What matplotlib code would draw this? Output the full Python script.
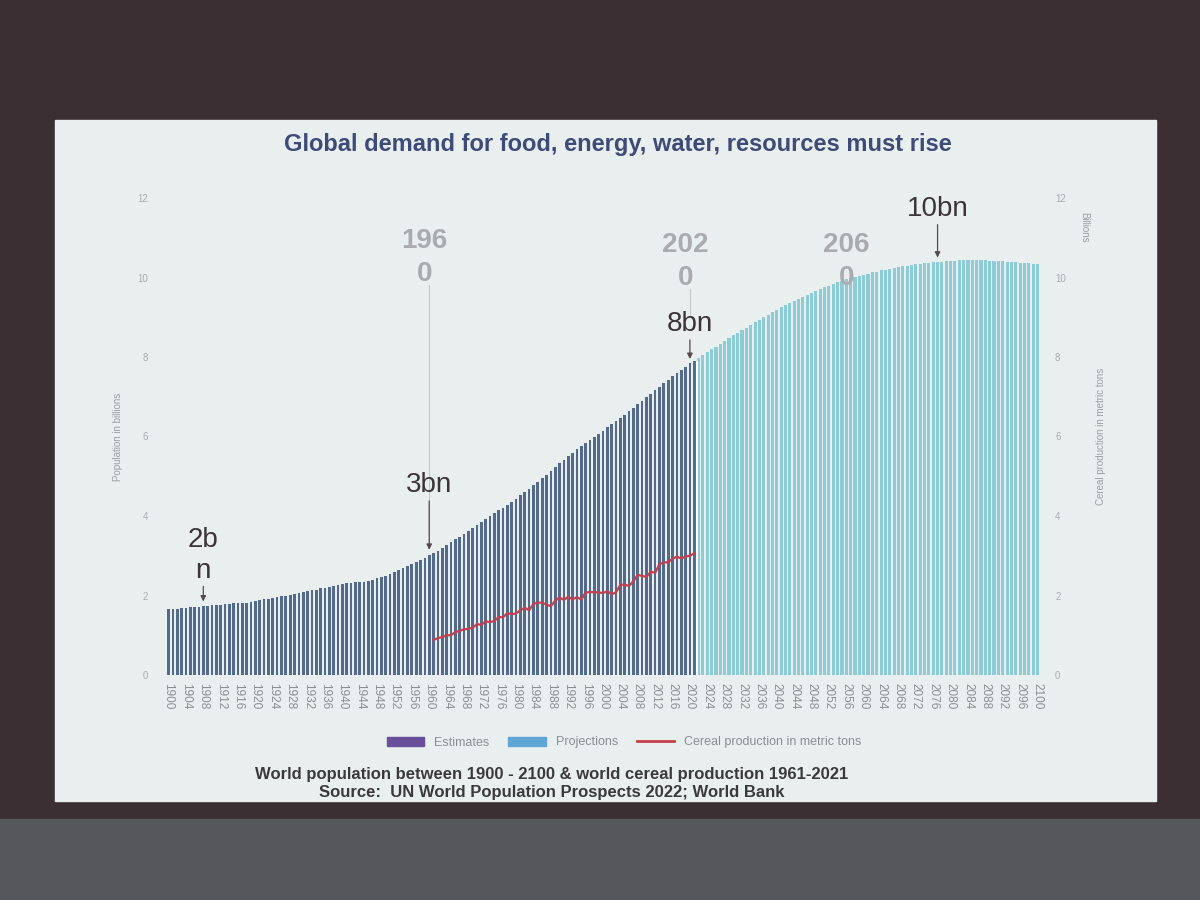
import matplotlib.pyplot as plt
from matplotlib.patches import Rectangle, Patch
from matplotlib.lines import Line2D

plt.rcParams['font.family'] = ['Liberation Sans', 'DejaVu Sans']

# world population, billions (1900-2021 estimates, 2022-2100 projections)
est_years = list(range(1900, 2022))
est_pop = [
    1.65, 1.66, 1.67, 1.68, 1.69, 1.70, 1.71, 1.72, 1.73, 1.74,
    1.75, 1.76, 1.77, 1.78, 1.79, 1.80, 1.80, 1.81, 1.81, 1.83,
    1.86, 1.88, 1.90, 1.92, 1.94, 1.96, 1.98, 2.00, 2.02, 2.05,
    2.07, 2.09, 2.11, 2.13, 2.15, 2.18, 2.20, 2.22, 2.25, 2.27,
    2.30, 2.31, 2.32, 2.33, 2.34, 2.35, 2.37, 2.40, 2.43, 2.46,
    2.50, 2.54, 2.59, 2.64, 2.69, 2.74, 2.79, 2.85, 2.90, 2.94,
    3.02, 3.07, 3.13, 3.20, 3.27, 3.34, 3.41, 3.48, 3.55, 3.62,
    3.70, 3.78, 3.85, 3.93, 4.00, 4.07, 4.14, 4.21, 4.28, 4.36,
    4.44, 4.52, 4.61, 4.69, 4.77, 4.86, 4.95, 5.04, 5.14, 5.23,
    5.33, 5.42, 5.51, 5.59, 5.68, 5.76, 5.84, 5.92, 6.00, 6.07,
    6.15, 6.23, 6.31, 6.39, 6.47, 6.55, 6.63, 6.72, 6.81, 6.90,
    6.99, 7.07, 7.16, 7.25, 7.34, 7.43, 7.51, 7.60, 7.68, 7.76,
    7.84, 7.91,
]
proj_years = list(range(2022, 2101))
proj_pop = [
    7.98, 8.05, 8.12, 8.19, 8.26, 8.33, 8.39, 8.47,
    8.55, 8.61, 8.68, 8.74, 8.81, 8.87, 8.94, 9.00, 9.06, 9.13,
    9.19, 9.25, 9.30, 9.36, 9.41, 9.46, 9.52, 9.57, 9.62, 9.66,
    9.71, 9.75, 9.79, 9.84, 9.88, 9.91, 9.95, 9.99, 10.02, 10.04,
    10.07, 10.10, 10.13, 10.15, 10.18, 10.20, 10.22, 10.24, 10.26, 10.28,
    10.30, 10.31, 10.33, 10.34, 10.36, 10.37, 10.38, 10.39, 10.40, 10.41,
    10.42, 10.42, 10.43, 10.43, 10.43, 10.43, 10.43, 10.43, 10.43, 10.42,
    10.42, 10.41, 10.41, 10.40, 10.39, 10.38, 10.37, 10.36, 10.36, 10.35,
    10.35,
]

# world cereal production, billion metric tons
cereal_years = list(range(1961, 2022))
cereal = [
    0.88, 0.93, 0.95, 1.00, 1.00, 1.08, 1.11, 1.15, 1.16,
    1.19, 1.28, 1.26, 1.35, 1.33, 1.36, 1.46, 1.45, 1.56, 1.53,
    1.55, 1.63, 1.69, 1.63, 1.79, 1.82, 1.82, 1.77, 1.73, 1.87,
    1.95, 1.89, 1.97, 1.90, 1.96, 1.90, 2.07, 2.09, 2.08, 2.08,
    2.06, 2.11, 2.03, 2.08, 2.27, 2.27, 2.24, 2.36, 2.52, 2.49,
    2.47, 2.60, 2.57, 2.79, 2.83, 2.84, 2.92, 2.98, 2.93, 2.98,
    3.00, 3.06,
]

# (text, year, text y, arrow tip y)
dark_notes = [("2b\nn", 1908, 2.3, 1.85), ("3bn", 1960, 4.45, 3.15),
              ("8bn", 2020, 8.5, 7.95), ("10bn", 2077, 11.4, 10.5)]
grey_notes = [("196\n0", 1960, 9.75, 3.2), ("202\n0", 2020, 9.65, 9.0),
              ("206\n0", 2057, 9.65, 10.05)]

fig = plt.figure(figsize=(12, 9), dpi=100)
fig.patch.set_facecolor('#3b2f33')
fig.add_artist(Rectangle((0, 0), 1, 0.09, transform=fig.transFigure,
                         color='#55575a', zorder=0))
fig.add_artist(Rectangle((0.046, 0.11), 0.917, 0.757, transform=fig.transFigure,
                         color='#e9efee', zorder=0))

ax = fig.add_axes([0.135, 0.25, 0.735, 0.53])
ax.set_facecolor('none')
ax.bar(est_years, est_pop, width=0.62, color='#536a8c', zorder=2)
ax.bar(proj_years, proj_pop, width=0.72, color='#8dcbd6', zorder=2)
ax.vlines(2021.6, 0, est_pop[-1], color='white', lw=1.5, zorder=3)
ax.plot(cereal_years, cereal, color='#c73e4c', lw=1.6, zorder=4)

ax.set_xlim(1898.5, 2101.5)
ax.set_ylim(0, 12)
ax.set_yticks(range(0, 13, 2))
ax.set_xticks(range(1900, 2101, 4))
ax.tick_params(axis='x', labelrotation=270, labelsize=8.5, colors='#8a8f93', length=0, pad=6)
for lbl in ax.get_xticklabels():
    lbl.set_fontstretch('condensed')
ax.tick_params(axis='y', labelsize=7, colors='#a8adb0', length=0, pad=10)
for s in ax.spines.values():
    s.set_visible(False)
ax.set_ylabel('Population in billions', fontsize=7, color='#9a9fa3', labelpad=10)

ax2 = ax.twinx()
ax2.set_ylim(0, 12)
ax2.set_yticks(range(0, 13, 2))
ax2.tick_params(axis='y', labelsize=7, colors='#a8adb0', length=0, pad=8)
for s in ax2.spines.values():
    s.set_visible(False)
ax2.set_ylabel('Cereal production in metric tons', fontsize=7, color='#9a9fa3',
               rotation=90, labelpad=22)
ax2.text(1.04, 0.97, 'Billions', transform=ax2.transAxes, rotation=270,
         fontsize=7, color='#9a9fa3', va='top', ha='left')

for txt, yr, ty, tip in grey_notes:
    ax.text(yr - 1, ty, txt, fontsize=20, color='#a9abaf', ha='center', va='bottom',
            fontweight='bold', linespacing=1.35, zorder=5, fontstretch='condensed')
    ax.plot([yr, yr], [tip, ty + 0.05], color='#c4c6c8', lw=0.8, zorder=1)

for txt, yr, ty, tip in dark_notes:
    ax.annotate(txt, xy=(yr, tip), xytext=(yr, ty), fontsize=20, color='#3d3438',
                ha='center', va='bottom', linespacing=1.25, zorder=6,
                fontstretch='condensed',
                arrowprops=dict(arrowstyle='-|>', color='#55494d', lw=0.9,
                                mutation_scale=8, shrinkA=0, shrinkB=0))

handles = [Patch(color='#6a4f9a'), Patch(color='#5fa6d6'),
           Line2D([], [], color='#c73e4c', lw=2)]
fig.legend(handles, ['Estimates', 'Projections', 'Cereal production in metric tons'],
           loc='center', bbox_to_anchor=(0.52, 0.175), ncol=3, frameon=False,
           fontsize=9, labelcolor='#8a8f93', handlelength=3, columnspacing=1.5)

fig.text(0.515, 0.84, 'Global demand for food, energy, water, resources must rise',
         ha='center', va='center', fontsize=17, color='#3e4a78', fontweight='bold')
fig.text(0.46, 0.13, 'World population between 1900 - 2100 & world cereal production 1961-2021\n'
         'Source:  UN World Population Prospects 2022; World Bank',
         ha='center', va='center', fontsize=12, color='#3a3a3c', fontweight='bold',
         linespacing=1.25)

fig.savefig('out.png', dpi=100, facecolor=fig.get_facecolor())
